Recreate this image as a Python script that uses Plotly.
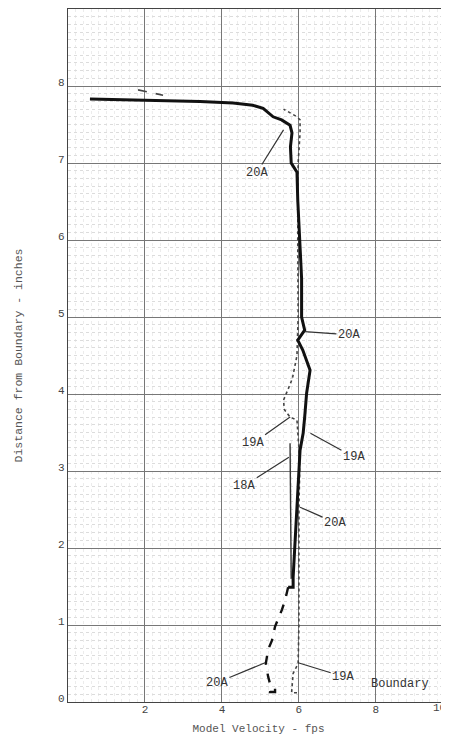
import plotly.graph_objects as go

# ---- data ----
v20a_upper = [0.57, 1.5, 2.5, 3.43, 4.29, 4.8, 5.07, 5.33, 5.55, 5.77, 5.82, 5.78, 5.8, 5.95,
              5.97, 6.03, 6.07, 6.07, 6.15, 5.97, 6.1, 6.29, 6.2, 6.15, 6.11, 6.03, 6.0, 5.97,
              5.96, 5.88, 5.85, 5.85, 5.72]
d20a_upper = [7.83, 7.82, 7.81, 7.8, 7.78, 7.75, 7.71, 7.6, 7.56, 7.49, 7.39, 7.21, 7.0, 6.88,
              6.52, 6.0, 5.5, 5.0, 4.83, 4.7, 4.57, 4.31, 4.01, 3.7, 3.49, 3.27, 3.01, 2.62,
              2.53, 1.99, 1.62, 1.49, 1.49]

v20a_lower = [5.72, 5.64, 5.56, 5.46, 5.38, 5.3, 5.2, 5.14, 5.2, 5.27, 5.25, 5.38, 5.38]
d20a_lower = [1.49, 1.32, 1.2, 1.09, 0.98, 0.8, 0.68, 0.5, 0.33, 0.2, 0.13, 0.13, 0.2]

v19a = [5.95, 5.81, 5.83, 5.85, 5.98, 6.0, 6.0, 6.0, 6.02, 6.0, 5.95, 5.77, 5.62, 5.6, 5.75,
        5.83, 5.95, 5.98, 5.97, 5.98, 6.03, 6.03, 5.95, 5.6]
d19a = [0.12, 0.12, 0.25, 0.37, 0.5, 1.0, 2.0, 2.5, 3.0, 3.3, 3.66, 3.7, 3.8, 3.92, 4.1,
        4.2, 4.5, 5.0, 6.0, 7.0, 7.39, 7.56, 7.6, 7.7]

v19a_top = [1.82, 2.47]
d19a_top = [7.95, 7.88]

v18a = [5.8, 5.78, 5.77, 5.77]
d18a = [1.6, 2.5, 2.9, 3.36]

x_ticks = [2, 4, 6, 8]
y_ticks = [0, 1, 2, 3, 4, 5, 6, 7, 8]

# labels: (text, tip velocity, tip distance, label velocity, label distance)
labels = [
    ("20A", 5.6, 7.43, 4.9, 6.87),
    ("20A", 6.15, 4.81, 7.3, 4.77),
    ("19A", 5.77, 3.7, 4.81, 3.36),
    ("19A", 6.3, 3.49, 7.43, 3.18),
    ("18A", 5.74, 3.18, 4.58, 2.81),
    ("20A", 6.03, 2.53, 6.94, 2.33),
    ("20A", 5.12, 0.51, 3.87, 0.25),
    ("19A", 5.98, 0.51, 7.15, 0.33),
]

FONT = "Liberation Mono"

fig = go.Figure()
fig.add_trace(go.Scatter(x=v19a_top, y=d19a_top, mode="lines",
                         line=dict(color="#444", width=1.6, dash="dash")))
fig.add_trace(go.Scatter(x=v19a, y=d19a, mode="lines",
                         line=dict(color="#444", width=1.6, dash="dot")))
fig.add_trace(go.Scatter(x=v18a, y=d18a, mode="lines",
                         line=dict(color="#333", width=1.4)))
fig.add_trace(go.Scatter(x=v20a_upper, y=d20a_upper, mode="lines",
                         line=dict(color="#111", width=3)))
fig.add_trace(go.Scatter(x=v20a_lower, y=d20a_lower, mode="lines",
                         line=dict(color="#111", width=2.4, dash="dash")))

for text, tx, ty, lx, ly in labels:
    fig.add_annotation(x=tx, y=ty, ax=lx, ay=ly, xref="x", yref="y", axref="x", ayref="y",
                       text=text, showarrow=True, arrowhead=0, arrowwidth=1.2,
                       arrowcolor="#333", standoff=0,
                       font=dict(family=FONT, size=12, color="#333"))

fig.add_annotation(x=8.62, y=0.23, xref="x", yref="y", text="Boundary", showarrow=False,
                   font=dict(family=FONT, size=12, color="#333"))
fig.add_annotation(x=(439 - 68) / 381, y=0, xref="paper", yref="paper", xanchor="center",
                   yanchor="top", yshift=2, text="10", showarrow=False,
                   font=dict(family=FONT, size=11, color="#444"))

# the page body adds an 8px margin, so the figure is sized to fit the 449x739 window
fig.update_layout(
    width=441, height=731,
    margin=dict(l=60, r=0, t=1, b=37),
    paper_bgcolor="white", plot_bgcolor="white",
    showlegend=False,
    font=dict(family=FONT, color="#444"),
)
fig.update_xaxes(
    range=[0, 9.9], tickvals=x_ticks, ticks="", showline=True, linecolor="#444",
    linewidth=1.2, mirror=True, showgrid=True, gridcolor="#777", gridwidth=1,
    zeroline=False, tickfont=dict(family=FONT, size=11, color="#444"),
    ticklabelstandoff=-3, automargin=False,
    minor=dict(dtick=0.2, showgrid=True, gridcolor="#ececec", griddash="dot", gridwidth=1),
    title=dict(text="Model Velocity - fps", font=dict(family=FONT, size=11, color="#555"),
               standoff=9),
)
fig.update_yaxes(
    range=[0, 9], tickvals=y_ticks, ticks="", showline=True, linecolor="#444",
    linewidth=1.2, showgrid=True, gridcolor="#777", gridwidth=1, zeroline=False,
    tickfont=dict(family=FONT, size=11, color="#444"), ticklabelshift=-4,
    automargin=False,
    minor=dict(dtick=0.1, showgrid=True, gridcolor="#dcdcdc", griddash="dot", gridwidth=1),
    title=dict(text="Distance from Boundary - inches",
               font=dict(family=FONT, size=11.5, color="#555"), standoff=33),
)

fig.write_html("out.html")
